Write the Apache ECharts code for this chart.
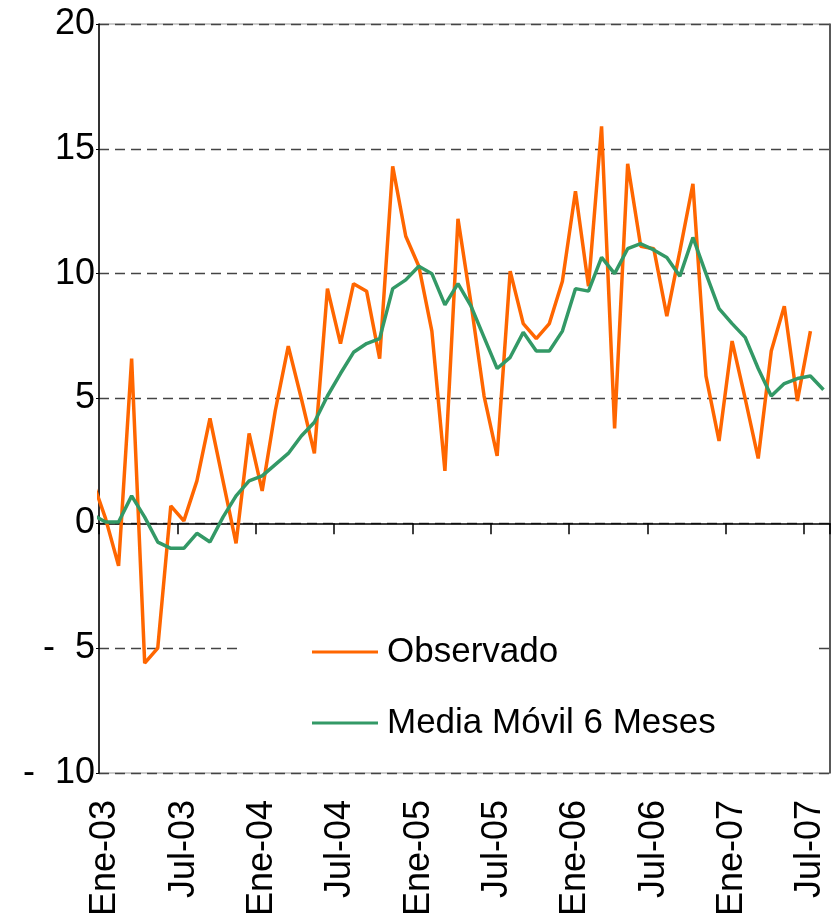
<!DOCTYPE html>
<html>
<head>
<meta charset="utf-8">
<script src="https://cdn.jsdelivr.net/npm/echarts@6/dist/echarts.min.js"></script>
<style>
  html, body { margin: 0; padding: 0; background: #fff; }
  #chart { width: 838px; height: 920px; }
</style>
</head>
<body>
<div id="chart"></div>
<script>
// Months Dic-02 .. Ago-07 (Dic-02 only shows as a clipped stub at the left edge)
const monthNames = ["Ene", "Feb", "Mar", "Abr", "May", "Jun", "Jul", "Ago", "Sep", "Oct", "Nov", "Dic"];
const categories = ["Dic-02"];
for (let y = 3; y <= 7; y++) {
  for (let m = 0; m < 12; m++) {
    if (y === 7 && m > 7) break;
    categories.push(monthNames[m] + "-0" + y);
  }
}

const observado = [
  1.7,
  0.2, -1.7, 6.6, -5.6, -5.0, 0.7, 0.1, 1.7, 4.2, 1.7, -0.8, 3.6,
  1.3, 4.5, 7.1, 5.0, 2.8, 9.4, 7.2, 9.6, 9.3, 6.6, 14.3, 11.5,
  10.3, 7.7, 2.1, 12.2, 8.8, 5.1, 2.7, 10.1, 8.0, 7.4, 8.0, 9.7,
  13.3, 9.5, 15.9, 3.8, 14.4, 11.1, 11.0, 8.3, 10.9, 13.6, 5.9, 3.3,
  7.3, 5.0, 2.6, 6.9, 8.7, 4.9, 7.7, null
];

const mediaMovil = [
  0.35,
  0.05, 0.05, 1.1, 0.25, -0.75, -1.0, -1.0, -0.4, -0.75, 0.25, 1.1, 1.7,
  1.9, 2.35, 2.8, 3.5, 4.05, 5.1, 6.0, 6.85, 7.2, 7.4, 9.4, 9.75,
  10.3, 10.0, 8.75, 9.6, 8.7, 7.45, 6.2, 6.65, 7.65, 6.9, 6.9, 7.7,
  9.4, 9.3, 10.65, 10.0, 11.0, 11.2, 10.95, 10.65, 9.9, 11.45, 10.0, 8.6,
  8.0, 7.45, 6.2, 5.1, 5.6, 5.8, 5.9, 5.35
];

const yTicks = { min: -10, max: 20, interval: 5 };
const seriesNames = ["Observado", "Media Móvil 6 Meses"];

const FONT = "'Liberation Sans', Arial, sans-serif";

// Category i sits at x = i - 0.5 so that tick marks fall on category boundaries
const toPoints = (arr) => arr.map((v, i) => [i - 0.5, v]);

// Excel-style negative format: minus sign set apart from the digits
const yLabel = (v) => (v < 0 ? "-  " + Math.abs(v) : String(v));

const chart = echarts.init(document.getElementById("chart"), null, { renderer: "canvas" });

chart.setOption({
  animation: false,
  backgroundColor: "#fff",
  textStyle: { fontFamily: FONT },
  grid: {
    left: 99,
    right: 8,
    top: 24,
    bottom: 147,
    show: true,
    borderColor: "#999",
    borderWidth: 1,
    backgroundColor: "transparent"
  },
  legend: {
    data: seriesNames,
    orient: "vertical",
    left: 243,
    top: 605,
    padding: [27, 100, 22, 69],
    backgroundColor: "#fff",
    icon: "rect",
    itemWidth: 66,
    itemHeight: 3,
    itemGap: 31,
    textStyle: {
      fontFamily: FONT,
      fontSize: 35,
      color: "#000",
      lineHeight: 40,
      padding: [0, 0, 0, 4]
    }
  },
  xAxis: [
    {
      type: "value",
      position: "bottom",
      min: 0,
      max: categories.length - 1,
      interval: 6,
      axisLine: { onZero: true, lineStyle: { color: "#000", width: 1.5 } },
      axisTick: { show: true, length: 11, lineStyle: { color: "#000", width: 1.5 } },
      axisLabel: { show: false },
      splitLine: { show: false }
    },
    {
      type: "category",
      position: "bottom",
      data: categories.slice(1),
      boundaryGap: true,
      axisLine: { show: false, onZero: false },
      axisTick: { show: false },
      axisLabel: {
        interval: 5,
        rotate: 90,
        margin: 27,
        fontFamily: FONT,
        fontSize: 36,
        color: "#000"
      },
      splitLine: { show: false }
    }
  ],
  yAxis: [
    {
      type: "value",
      position: "left",
      min: yTicks.min,
      max: yTicks.max,
      interval: yTicks.interval,
      axisLine: { show: true, onZero: false, lineStyle: { color: "#000", width: 1.5 } },
      axisTick: { show: true, length: 3, lineStyle: { color: "#000" } },
      axisLabel: { margin: 4, fontFamily: FONT, fontSize: 36, color: "#000", formatter: yLabel },
      splitLine: { show: true, lineStyle: { color: "#444", type: [10, 6], width: 1.3 } }
    },
    {
      type: "value",
      position: "right",
      min: yTicks.min,
      max: yTicks.max,
      interval: yTicks.interval,
      axisLine: { show: true, onZero: false, lineStyle: { color: "#333", width: 1.5 } },
      axisTick: { show: false },
      axisLabel: { show: false },
      splitLine: { show: false }
    }
  ],
  series: [
    {
      name: seriesNames[0],
      type: "line",
      xAxisIndex: 0,
      yAxisIndex: 0,
      data: toPoints(observado),
      showSymbol: false,
      symbol: "none",
      clip: true,
      lineStyle: { color: "#FF6600", width: 3.5 },
      itemStyle: { color: "#FF6600" }
    },
    {
      name: seriesNames[1],
      type: "line",
      xAxisIndex: 0,
      yAxisIndex: 0,
      data: toPoints(mediaMovil),
      showSymbol: false,
      symbol: "none",
      clip: true,
      lineStyle: { color: "#339966", width: 3.5 },
      itemStyle: { color: "#339966" }
    }
  ]
});
</script>
</body>
</html>
